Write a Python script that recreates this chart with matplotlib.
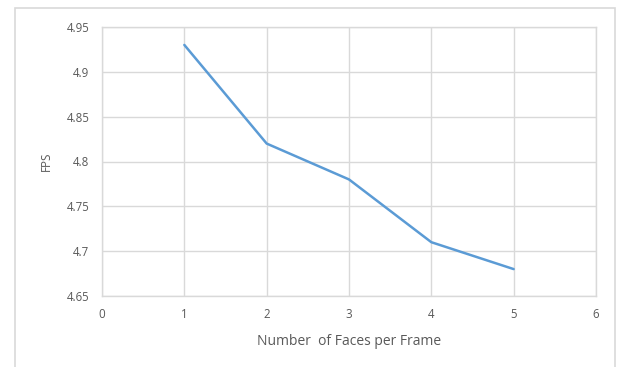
import matplotlib.pyplot as plt
from matplotlib.patches import Rectangle

faces = [1, 2, 3, 4, 5]
fps = [4.93, 4.82, 4.78, 4.71, 4.68]
xticks = [0, 1, 2, 3, 4, 5, 6]
yticks = [4.65, 4.7, 4.75, 4.8, 4.85, 4.9, 4.95]
ytick_labels = ['4.65', '4.7', '4.75', '4.8', '4.85', '4.9', '4.95']

grey_text = '#595959'
grid_col = '#d9d9d9'

plt.rcParams['font.family'] = ['Open Sans', 'DejaVu Sans']

fig = plt.figure(figsize=(6.19, 3.67), dpi=100)
ax = fig.add_axes([102 / 619, 1 - 296 / 367, (596 - 102) / 619, (296 - 27) / 367])

# outer chart border (open at the bottom)
fig.add_artist(Rectangle((15 / 619, -0.05), (615 - 15) / 619, 1.05 - 8 / 367,
                         transform=fig.transFigure, fill=False,
                         edgecolor=grid_col, linewidth=1.2))

ax.plot(faces, fps, color='#5b9bd5', linewidth=1.8, solid_capstyle='round')

ax.set_xlim(0, 6)
ax.set_ylim(4.65, 4.95)
ax.set_xticks(xticks)
ax.set_yticks(yticks)
ax.set_yticklabels(ytick_labels)
ax.grid(True, color=grid_col, linewidth=1)
ax.set_axisbelow(True)
for s in ax.spines.values():
    s.set_color(grid_col)
    s.set_linewidth(1)
ax.tick_params(length=0, colors=grey_text, labelsize=8.3, pad=9)

ax.set_xlabel('Number  of Faces per Frame', color=grey_text, fontsize=10, labelpad=9)
ax.set_ylabel('FPS', color=grey_text, fontsize=8.5, labelpad=10)

fig.savefig('out.png', dpi=100)
